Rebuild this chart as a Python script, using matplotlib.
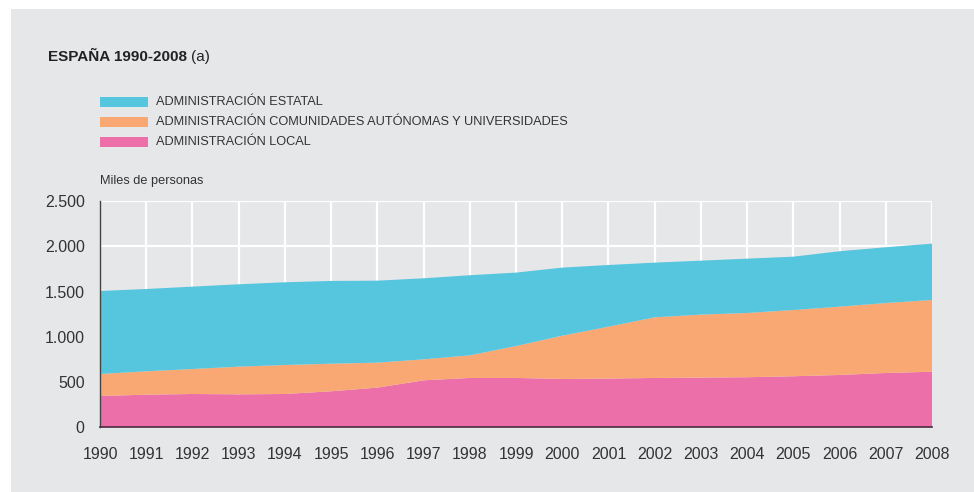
import matplotlib.pyplot as plt
import matplotlib.patches as mpatches
import numpy as np

plt.rcParams['font.family'] = ['Liberation Sans', 'DejaVu Sans']

years = list(range(1990, 2009))
# cumulative tops (miles de personas)
local_top = [346, 360, 368, 364, 368, 398, 438, 519, 545, 545, 534, 538, 545, 549, 553, 564, 578, 600, 614]
ccaa_top = [589, 619, 644, 670, 688, 703, 714, 751, 795, 898, 1012, 1112, 1215, 1245, 1263, 1296, 1333, 1373, 1407]
estado_top = [1506, 1528, 1554, 1580, 1602, 1617, 1620, 1646, 1680, 1709, 1764, 1793, 1819, 1841, 1863, 1885, 1945, 1989, 2029]

local = np.array(local_top)
ccaa = np.array(ccaa_top) - local
estatal = np.array(estado_top) - np.array(ccaa_top)

labels = ["ADMINISTRACIÓN ESTATAL",
          "ADMINISTRACIÓN COMUNIDADES AUTÓNOMAS Y UNIVERSIDADES",
          "ADMINISTRACIÓN LOCAL"]
colors = ["#56c5de", "#f9a873", "#ec6fa9"]
bg = "#e6e7e9"
txt = "#333333"

W, H = 974, 492
fig = plt.figure(figsize=(W / 100, H / 100), dpi=100)
fig.patch.set_facecolor("white")
fig.add_artist(mpatches.Rectangle((11 / W, 0), 1, 1 - 9 / H, transform=fig.transFigure,
                                  facecolor=bg, edgecolor="none", zorder=-10))

ax = fig.add_axes([100 / W, (H - 427.3) / H, (932 - 100) / W, (427.3 - 201) / H])
ax.set_facecolor(bg)
ax.stackplot(years, local, ccaa, estatal, colors=colors[::-1], linewidth=0, zorder=1)

ax.set_xlim(1990, 2008)
ax.set_ylim(0, 2500)
ax.set_xticks(years)
ax.set_yticks([0, 500, 1000, 1500, 2000, 2500])
ax.set_yticklabels(["0", "500", "1.000", "1.500", "2.000", "2.500"])
ax.grid(True, color="white", linewidth=1.6, zorder=0)
ax.set_axisbelow(True)
ax.tick_params(length=0, labelsize=11.5, colors=txt)
ax.tick_params(axis="x", pad=14)
ax.tick_params(axis="y", pad=11)
for s in ["top", "right"]:
    ax.spines[s].set_visible(False)
ax.spines["left"].set_color("#444444")
ax.spines["bottom"].set_color("#4a2a40")
ax.spines["left"].set_linewidth(1.0)
ax.spines["bottom"].set_linewidth(1.2)
ax.spines["left"].set_zorder(3)
ax.spines["bottom"].set_zorder(3)

t = fig.text(48 / W, 1 - 57 / H, "ESPAÑA 1990-2008", fontsize=11, fontweight="bold",
             color="#222222", va="center")
fig.canvas.draw()
bb = t.get_window_extent()
fig.text(bb.x1 / W + 4 / W, 1 - 57 / H, "(a)", fontsize=11, color="#222222", va="center")

for i, (lab, c) in enumerate(zip(labels, colors)):
    y = 102 + 20 * i
    fig.add_artist(mpatches.Rectangle((100 / W, 1 - (y + 5) / H), 48 / W, 10 / H,
                                      transform=fig.transFigure, facecolor=c, edgecolor="none"))
    fig.text(156 / W, 1 - y / H, lab, fontsize=9.2, color=txt, va="center")

fig.text(100 / W, 1 - 181 / H, "Miles de personas", fontsize=9.2, color=txt, va="center")

plt.savefig("out.png", dpi=100, facecolor=fig.get_facecolor())
